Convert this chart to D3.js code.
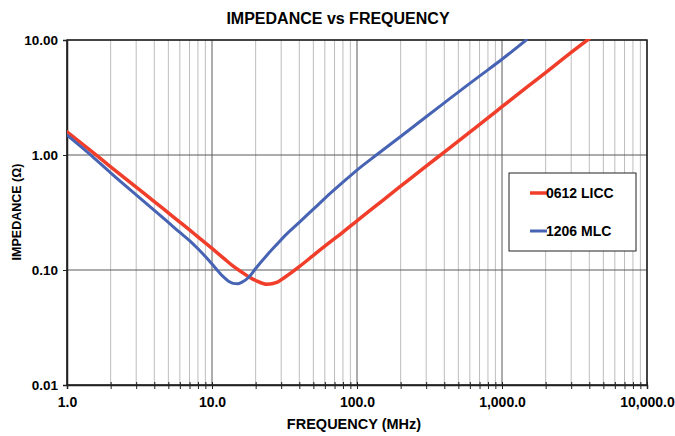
<!DOCTYPE html>
<html>
<head>
<meta charset="utf-8">
<script src="https://cdn.jsdelivr.net/npm/d3@7"></script>
<style>
  body { margin: 0; background: #fff; }
  text { font-family: "Liberation Sans", Arial, sans-serif; font-weight: bold; fill: #000; }
</style>
</head>
<body>
<div id="chart"></div>
<script>
// ============================
// Data
// ============================

const xTicks = [1, 10, 100, 1000, 10000];
const xTickLabels = ["1.0", "10.0", "100.0", "1,000.0", "10,000.0"];
const yTicks = [0.01, 0.1, 1, 10];
const yTickLabels = ["0.01", "0.10", "1.00", "10.00"];

// 0612 LICC
const liccFreq = [1, 1.5, 2, 3, 4, 5, 6, 7, 8, 10, 12, 14, 16, 18, 20, 24, 28, 32, 40, 50, 60, 80, 100, 150, 200, 300, 400, 600, 800, 1000, 1500, 2000, 3000, 4000];
const liccZ = [1.59, 1.06, 0.79, 0.525, 0.394, 0.314, 0.261, 0.223, 0.194, 0.154, 0.127, 0.108, 0.096, 0.087, 0.081, 0.075, 0.078, 0.087, 0.107, 0.134, 0.161, 0.213, 0.268, 0.402, 0.535, 0.80, 1.06, 1.58, 2.1, 2.63, 3.93, 5.2, 7.8, 10.3];

// 1206 MLC
const mlcFreq = [1, 1.5, 2, 3, 4, 5, 6, 7, 8, 10, 11, 12, 13, 14, 15, 16, 18, 20, 24, 28, 32, 40, 50, 60, 80, 100, 136, 200, 300, 400, 600, 800, 1000, 1470];
const mlcZ = [1.49, 0.97, 0.70, 0.45, 0.33, 0.259, 0.212, 0.180, 0.153, 0.113, 0.098, 0.087, 0.080, 0.0765, 0.0758, 0.078, 0.087, 0.103, 0.135, 0.167, 0.2, 0.26, 0.338, 0.42, 0.58, 0.74, 1.0, 1.45, 2.15, 2.84, 4.2, 5.5, 6.8, 10.0];

const series = [
  {name: "0612 LICC", color: "#f03e2b", width: 3.5, x: liccFreq, y: liccZ},
  {name: "1206 MLC", color: "#4763b4", width: 3, x: mlcFreq, y: mlcZ}
];

// ============================
// Intial setup
// ============================

const width = 675;
const height = 436;
const margin = {top: 40, right: 28, bottom: 51, left: 67};

const svg = d3.select("#chart").append("svg")
  .attr("width", width)
  .attr("height", height);

const xscale = d3.scaleLog()
  .domain([1, 10000])
  .range([margin.left, width - margin.right]);

const yscale = d3.scaleLog()
  .domain([0.01, 10])
  .range([height - margin.bottom, margin.top]);

// minor values 2..9 in each decade
const minorX = [];
for (let d = 1; d < 10000; d *= 10) {
  for (let k = 2; k <= 9; k++) minorX.push(d * k);
}

// ============================
// Grid
// ============================

const grid = svg.append("g");

grid.selectAll(".minor-x")
  .data(minorX)
  .join("line")
  .attr("class", "minor-x")
  .attr("x1", d => xscale(d)).attr("x2", d => xscale(d))
  .attr("y1", yscale(0.01)).attr("y2", yscale(10))
  .attr("stroke", "#bdbdbd")
  .attr("stroke-width", 1);

grid.selectAll(".major-x")
  .data(xTicks)
  .join("line")
  .attr("class", "major-x")
  .attr("x1", d => xscale(d)).attr("x2", d => xscale(d))
  .attr("y1", yscale(0.01)).attr("y2", yscale(10))
  .attr("stroke", "#5a5a5a")
  .attr("stroke-width", 1);

grid.selectAll(".major-y")
  .data(yTicks)
  .join("line")
  .attr("class", "major-y")
  .attr("x1", xscale(1)).attr("x2", xscale(10000))
  .attr("y1", d => yscale(d)).attr("y2", d => yscale(d))
  .attr("stroke", "#5a5a5a")
  .attr("stroke-width", 1);

// ============================
// Axes
// ============================

const xAxis = svg.append("g")
  .attr("transform", `translate(0,${yscale(0.01)})`)
  .call(d3.axisBottom(xscale)
    .tickValues(xTicks.concat(minorX))
    .tickSize(4)
    .tickFormat(d => {
      const i = xTicks.indexOf(d);
      return i >= 0 ? xTickLabels[i] : "";
    }));
xAxis.select(".domain").attr("stroke", "#222").attr("stroke-width", 1.5);
xAxis.selectAll(".tick line").attr("stroke", "#222").attr("y1", -3);
xAxis.selectAll(".tick text")
  .attr("dy", "0.71em")
  .attr("y", 12)
  .style("font-size", "14px");

const yAxis = svg.append("g")
  .attr("transform", `translate(${xscale(1)},0)`)
  .call(d3.axisLeft(yscale)
    .tickValues(yTicks)
    .tickSize(4)
    .tickFormat((d, i) => yTickLabels[yTicks.indexOf(d)]));
yAxis.select(".domain").attr("stroke", "#222").attr("stroke-width", 1.5);
yAxis.selectAll(".tick line").attr("stroke", "#222");
yAxis.selectAll(".tick text")
  .attr("x", -9)
  .style("font-size", "13.5px");

// frame right / top
svg.append("rect")
  .attr("x", xscale(1)).attr("y", yscale(10))
  .attr("width", xscale(10000) - xscale(1))
  .attr("height", yscale(0.01) - yscale(10))
  .attr("fill", "none")
  .attr("stroke", "#222")
  .attr("stroke-width", 1.5);

// ============================
// Curves
// ============================

svg.append("clipPath").attr("id", "plot-clip")
  .append("rect")
  .attr("x", xscale(1)).attr("y", yscale(10) - 1)
  .attr("width", xscale(10000) - xscale(1))
  .attr("height", yscale(0.01) - yscale(10) + 1);

const line = d3.line()
  .curve(d3.curveMonotoneX)
  .x(d => xscale(d[0]))
  .y(d => yscale(d[1]));

svg.append("g")
  .attr("clip-path", "url(#plot-clip)")
  .selectAll("path")
  .data(series)
  .join("path")
  .attr("d", s => line(s.x.map((f, i) => [f, s.y[i]])))
  .attr("fill", "none")
  .attr("stroke", s => s.color)
  .attr("stroke-width", s => s.width)
  .attr("stroke-linejoin", "round")
  .attr("stroke-linecap", "round");

// ============================
// Legend
// ============================

const legend = svg.append("g").attr("transform", "translate(509,173)");
legend.append("rect")
  .attr("width", 127).attr("height", 78)
  .attr("fill", "#fff")
  .attr("stroke", "#222")
  .attr("stroke-width", 1);

const legendItem = legend.selectAll(".item")
  .data(series)
  .join("g")
  .attr("class", "item")
  .attr("transform", (d, i) => `translate(0,${20 + i * 38})`);
legendItem.append("line")
  .attr("x1", 21).attr("x2", 38)
  .attr("stroke", d => d.color)
  .attr("stroke-width", d => d.width);
legendItem.append("text")
  .attr("x", 37).attr("dy", "0.36em")
  .style("font-size", "14px")
  .text(d => d.name);

// ============================
// Titles
// ============================

svg.append("text")
  .attr("x", 338).attr("y", 24)
  .attr("text-anchor", "middle")
  .style("font-size", "16px")
  .text("IMPEDANCE vs FREQUENCY");

svg.append("text")
  .attr("x", 354).attr("y", 429)
  .attr("text-anchor", "middle")
  .style("font-size", "14.5px")
  .text("FREQUENCY (MHz)");

svg.append("text")
  .attr("transform", "translate(21,212) rotate(-90)")
  .attr("text-anchor", "middle")
  .style("font-size", "12.5px")
  .text("IMPEDANCE (Ω)");
</script>
</body>
</html>
